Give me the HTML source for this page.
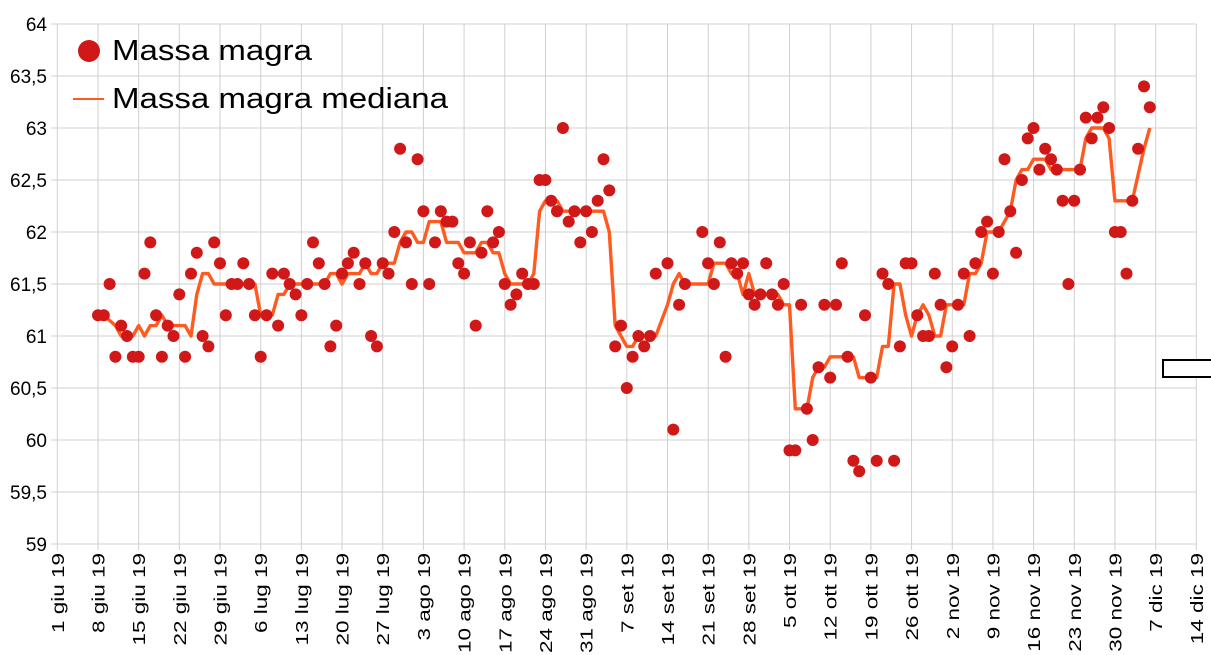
<!DOCTYPE html>
<html><head><meta charset="utf-8"><style>
html,body{margin:0;padding:0;background:#fff;}
svg{display:block;font-family:"Liberation Sans",Arial,sans-serif;}
</style></head><body>
<svg id="c" width="1211" height="655" viewBox="0 0 1211 655" xmlns="http://www.w3.org/2000/svg">
<g id="grid" stroke="#d0d0d0" stroke-width="1"></g>
<g font-size="19" fill="#000" text-anchor="end">
<text x="47" y="31">64</text>
<text x="47" y="83">63,5</text>
<text x="47" y="135">63</text>
<text x="47" y="187">62,5</text>
<text x="47" y="239">62</text>
<text x="47" y="291">61,5</text>
<text x="47" y="343">61</text>
<text x="47" y="395">60,5</text>
<text x="47" y="447">60</text>
<text x="47" y="499">59,5</text>
<text x="47" y="551">59</text>
</g>
<g id="xl" font-size="18" fill="#000" text-anchor="end">
<text>1 giu 19</text><text>8 giu 19</text><text>15 giu 19</text><text>22 giu 19</text><text>29 giu 19</text>
<text>6 lug 19</text><text>13 lug 19</text><text>20 lug 19</text><text>27 lug 19</text><text>3 ago 19</text>
<text>10 ago 19</text><text>17 ago 19</text><text>24 ago 19</text><text>31 ago 19</text><text>7 set 19</text>
<text>14 set 19</text><text>21 set 19</text><text>28 set 19</text><text>5 ott 19</text><text>12 ott 19</text>
<text>19 ott 19</text><text>26 ott 19</text><text>2 nov 19</text><text>9 nov 19</text><text>16 nov 19</text>
<text>23 nov 19</text><text>30 nov 19</text><text>7 dic 19</text><text>14 dic 19</text>
</g>
<polyline id="med" fill="none" stroke="#ff5a1f" stroke-width="3.4" stroke-linejoin="round"></polyline>
<g id="dots" fill="#d01818"></g>
<circle cx="89" cy="51" r="11" fill="#d01818"/>
<text x="112" y="60" font-size="29" textLength="200" lengthAdjust="spacingAndGlyphs">Massa magra</text>
<line x1="73" y1="99" x2="104" y2="99" stroke="#ff5a1f" stroke-width="2"/>
<text x="112" y="108" font-size="29" textLength="336" lengthAdjust="spacingAndGlyphs">Massa magra mediana</text>
<rect x="1163" y="360" width="50" height="17" fill="#fff" stroke="#000" stroke-width="2"/>
</svg>
<script>
(function(){
var NS="http://www.w3.org/2000/svg";
function X(d){return 57.3+d*5.811;}
function Y(v){return 24+(64-v)*104;}
var g=document.getElementById('grid');
function ln(x1,y1,x2,y2){var l=document.createElementNS(NS,'line');l.setAttribute('x1',x1);l.setAttribute('y1',y1);l.setAttribute('x2',x2);l.setAttribute('y2',y2);g.appendChild(l);}
for(var k=0;k<=10;k++){var y=24+k*52;ln(51,y,1196.5,y);}
var xs=document.getElementById('xl').children;
for(var k=0;k<=28;k++){var x=57.3+k*40.68;ln(x,24,x,550);
 var t=xs[k];t.setAttribute('transform','translate('+(x+6.5)+',553) rotate(-90) scale(1.25,1)');}
var v=[61.2,61.2,61.5,60.8,61.1,61.0,60.8,60.8,61.6,61.9,61.2,60.8,61.1,61.0,61.4,60.8,61.6,61.8,61.0,60.9,
61.9,61.7,61.2,61.5,61.5,61.7,61.5,61.2,60.8,61.2,61.6,61.1,61.6,61.5,61.4,61.2,61.5,61.9,61.7,61.5,
60.9,61.1,61.6,61.7,61.8,61.5,61.7,61.0,60.9,61.7,61.6,62.0,62.8,61.9,61.5,62.7,62.2,61.5,61.9,62.2,
62.1,62.1,61.7,61.6,61.9,61.1,61.8,62.2,61.9,62.0,61.5,61.3,61.4,61.6,61.5,61.5,62.5,62.5,62.3,62.2,
63.0,62.1,62.2,61.9,62.2,62.0,62.3,62.7,62.4,60.9,61.1,60.5,60.8,61.0,60.9,61.0,61.6,null,61.7,60.1,
61.3,61.5,null,null,62.0,61.7,61.5,61.9,60.8,61.7,61.6,61.7,61.4,61.3,61.4,61.7,61.4,61.3,61.5,59.9,
59.9,61.3,60.3,60.0,60.7,61.3,60.6,61.3,61.7,60.8,59.8,59.7,61.2,60.6,59.8,61.6,61.5,59.8,60.9,61.7,
61.7,61.2,61.0,61.0,61.6,61.3,60.7,60.9,61.3,61.6,61.0,61.7,62.0,62.1,61.6,62.0,62.7,62.2,61.8,62.5,
62.9,63.0,62.6,62.8,62.7,62.6,62.3,61.5,62.3,62.6,63.1,62.9,63.1,63.2,63.0,62.0,62.0,61.6,62.3,62.8,
63.4,63.2];
var pts=[];for(var i=0;i<v.length;i++)if(v[i]!==null)pts.push([i,v[i]]);
var dg=document.getElementById('dots');
pts.forEach(function(p){var c=document.createElementNS(NS,'circle');c.setAttribute('cx',X(7+p[0]).toFixed(1));c.setAttribute('cy',Y(p[1]).toFixed(1));c.setAttribute('r',6);dg.appendChild(c);});
var s=[];
for(var j=0;j<pts.length;j++){var w=[];for(var k=Math.max(0,j-3);k<=Math.min(pts.length-1,j+3);k++)w.push(pts[k][1]);
 w.sort(function(a,b){return a-b});var n=w.length,m=n%2?w[(n-1)/2]:(w[n/2-1]+w[n/2])/2;
 s.push(X(7+pts[j][0]).toFixed(1)+','+Y(m).toFixed(1));}
document.getElementById('med').setAttribute('points',s.join(' '));
})();
</script>
</body></html>
